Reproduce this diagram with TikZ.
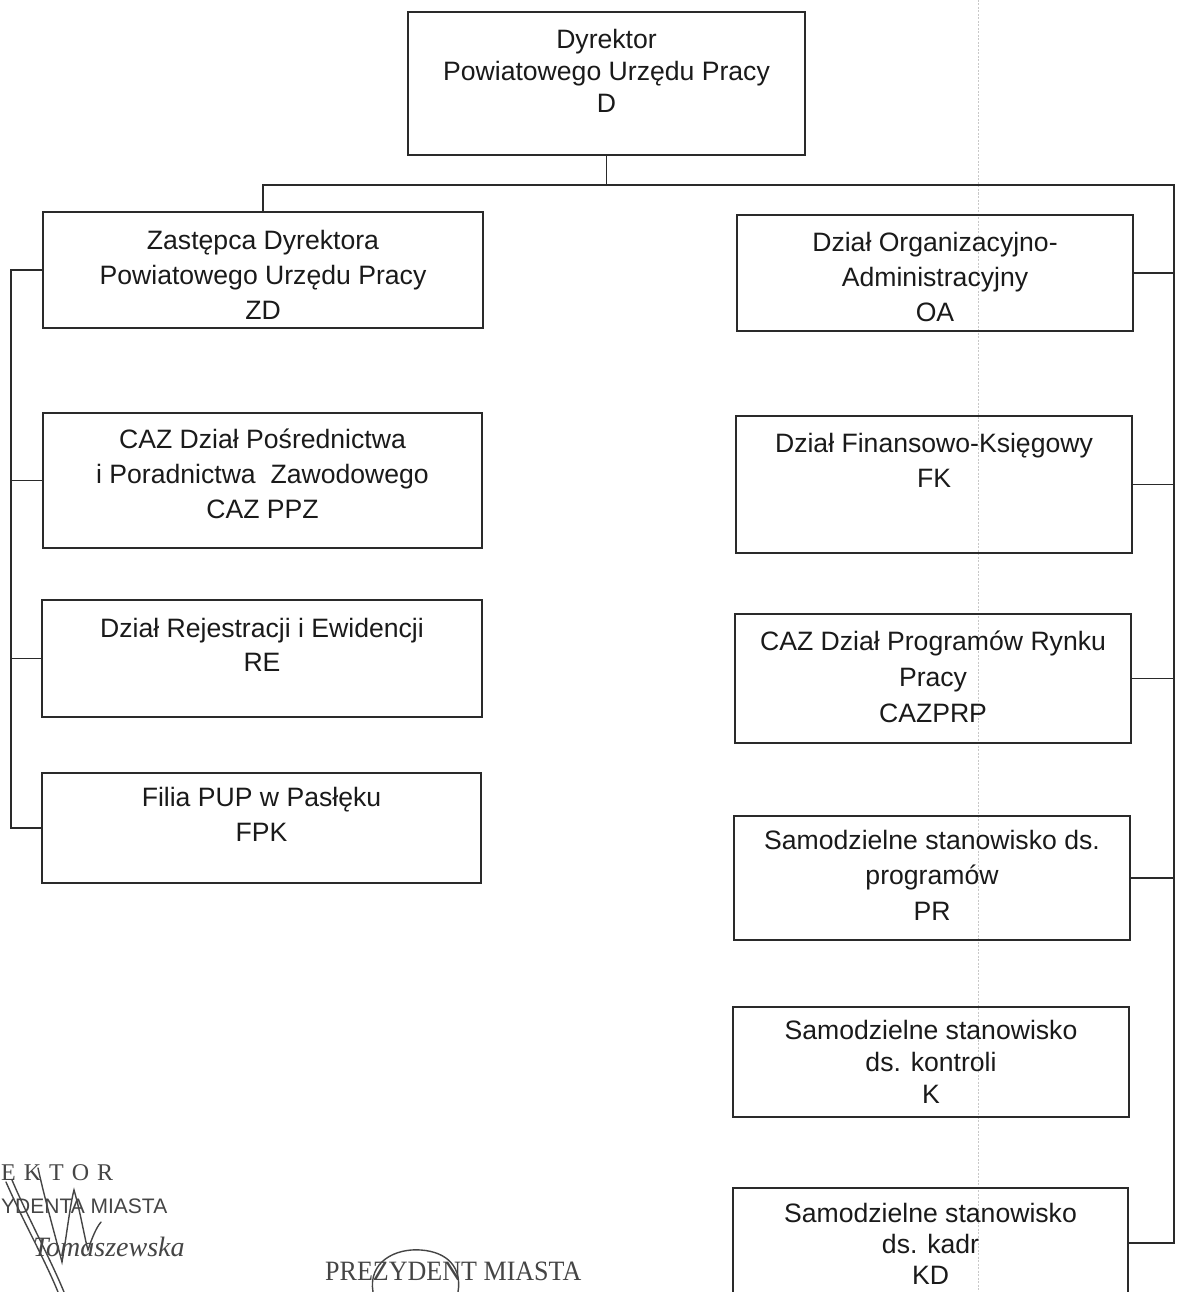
\documentclass[tikz,border=0pt]{standalone}
\usepackage{fontspec}
\usepackage{graphicx}
\setmainfont{Liberation Sans}
\newfontfamily\sigserif{Liberation Serif}
\usetikzlibrary{calc}
\definecolor{ink}{HTML}{1A1A1A}
\definecolor{rulec}{HTML}{2A2A2A}
\definecolor{pen}{HTML}{454545}
\definecolor{fold}{HTML}{C8C8C8}
\newcommand{\orgtext}[5]{\parbox[c][#2][t]{#1}{\centering\fontsize{26.6pt}{#4}\selectfont\rule{0pt}{#3}#5\par}}
\begin{document}
\begin{tikzpicture}[x=1pt,y=-1pt,
  orgbox/.style={draw=rulec, line width=1.9pt, inner sep=0pt, outer sep=0pt, anchor=north west, text=ink},
  link/.style={draw=rulec, line width=1.9pt},
  sig/.style={draw=pen, line width=1.4pt, line cap=round},
  stamp/.style={inner sep=0pt, anchor=base west, text=pen}]
\useasboundingbox (0,0) rectangle (1178,1292);
\fill[white] (0,0) rectangle (1178,1292);
% faint fold line of the scan
\draw[fold, line width=0.7pt, dash pattern=on 2pt off 1.5pt] (978,0) -- (978,1292);

% boxes
\node[orgbox] (d) at (408,12) {\orgtext{397pt}{143pt}{37pt}{32pt}{Dyrektor\\Powiatowego Urzędu Pracy\\D}};
\node[orgbox] (zd) at (43,212) {\orgtext{440pt}{116pt}{37pt}{35pt}{Zastępca Dyrektora\\Powiatowego Urzędu Pracy\\ZD}};
\node[orgbox] (ppz) at (43,413) {\orgtext{439pt}{135pt}{35pt}{35pt}{CAZ Dział Pośrednictwa\\i Poradnictwa\ \ Zawodowego\\CAZ PPZ}};
\node[orgbox] (re) at (42,600) {\orgtext{440pt}{117pt}{37pt}{34pt}{Dział Rejestracji i Ewidencji\\RE}};
\node[orgbox] (fpk) at (42,773) {\orgtext{439pt}{110pt}{33pt}{35pt}{Filia PUP w Pasłęku\\FPK}};
\node[orgbox] (oa) at (737,215) {\orgtext{396pt}{116pt}{36pt}{35pt}{Dział Organizacyjno-\\Administracyjny\\OA}};
\node[orgbox] (fk) at (736,416) {\orgtext{396pt}{137pt}{36pt}{35pt}{Dział Finansowo-Księgowy\\FK}};
\node[orgbox] (prp) at (735,614) {\orgtext{396pt}{129pt}{36pt}{36pt}{CAZ Dział Programów Rynku\\Pracy\\CAZPRP}};
\node[orgbox] (pr) at (734,816) {\orgtext{396pt}{124pt}{33pt}{35.5pt}{Samodzielne stanowisko ds.\\programów\\PR}};
\node[orgbox] (k) at (733,1007) {\orgtext{396pt}{110pt}{32pt}{32pt}{Samodzielne stanowisko\\ds. kontroli\\K}};
\node[orgbox] (kd) at (733,1188) {\orgtext{395pt}{130pt}{34pt}{31pt}{Samodzielne stanowisko\\ds. kadr\\KD}};

% bus coordinates
\coordinate (rb) at (1174,185);
\coordinate (lb) at (11,270);
\coordinate (kdj) at ($(kd.north east)+(0,55)$);

% connectors
\draw[link] (d.south) -- (d.south |- rb);
\draw[link] (zd.north) |- (rb) -- (rb |- kdj) -- (kdj);
\draw[link] (oa.east) -- (oa.east -| rb);
\draw[link] (fk.east) -- (fk.east -| rb);
\draw[link] (prp.east) -- (prp.east -| rb);
\draw[link] (pr.east) -- (pr.east -| rb);
\draw[link] (zd.west) -- (zd.west -| lb) -- (fpk.west -| lb) -- (fpk.west);
\draw[link] (ppz.west) -- (ppz.west -| lb);
\draw[link] (re.west) -- (re.west -| lb);

% stamps and signatures
\node[stamp] (ek) at (1,1180) {\sigserif\fontsize{24pt}{24pt}\selectfont E\hspace{8pt}K\hspace{8pt}T\hspace{8pt}O\hspace{8pt}R};
\node[stamp] (zps) at (1,1213) {\fontsize{21pt}{21pt}\selectfont YDENTA MIASTA};
\node[stamp] (tom) at (33,1256) {\sigserif\itshape\fontsize{28pt}{28pt}\selectfont Tomaszewska};
\node[stamp] (prez) at (325,1280) {\scalebox{0.93}[1]{\sigserif\fontsize{28pt}{28pt}\selectfont PREZYDENT MIASTA}};

\draw[sig] (6,1182) .. controls (25,1225) and (45,1260) .. (58,1292);
\draw[sig] (12,1180) .. controls (30,1222) and (50,1258) .. (64,1292);
\draw[sig] (38,1168) .. controls (45,1200) and (55,1235) .. (62,1262)
  .. controls (66,1240) and (70,1205) .. (74,1190)
  .. controls (80,1210) and (85,1240) .. (88,1250)
  .. controls (92,1238) and (96,1228) .. (101,1222);
\draw[sig] (373,1292) .. controls (368,1262) and (395,1248) .. (421,1250)
  .. controls (448,1252) and (462,1268) .. (458,1292);
\end{tikzpicture}
\end{document}
